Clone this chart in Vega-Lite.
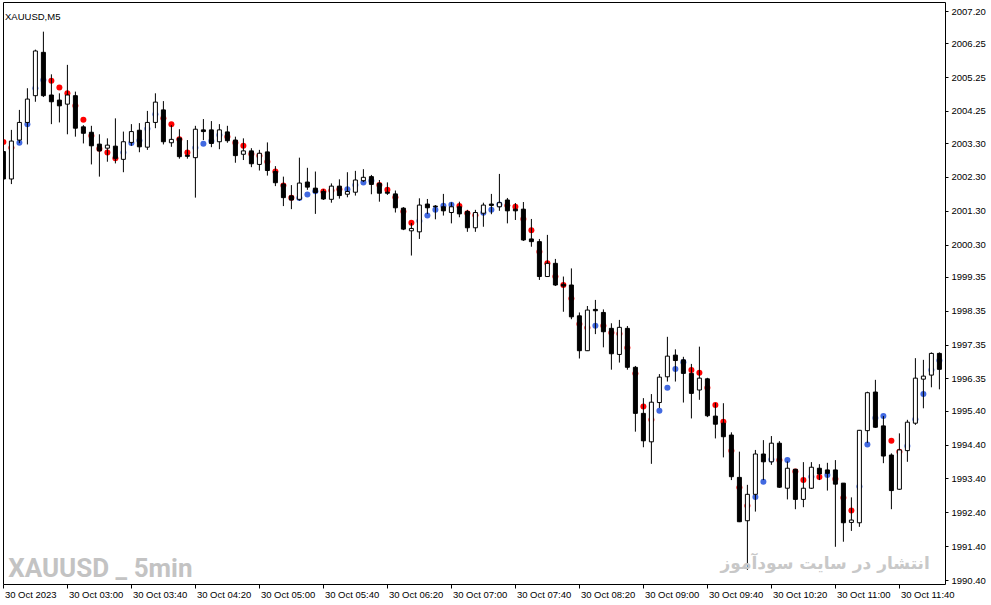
{
"$schema": "https://vega.github.io/schema/vega-lite/v6.json",
"width": 942, "height": 582,
"autosize": "none",
"padding": {"left": 3, "top": 2, "right": 46, "bottom": 21},
"background": "#ffffff",
"title": {"text": "XAUUSD,M5", "anchor": "start", "frame": "group", "offset": -27, "dx": 2, "fontSize": 9.5, "font": "Liberation Sans", "fontWeight": "normal", "color": "#000000", "baseline": "alphabetic"},
"config": {
  "view": {"stroke": "#000000", "strokeWidth": 1},
  "scale": {"continuousPadding": 0},
  "axis": {"grid": false, "domain": false, "tickColor": "#000000", "labelColor": "#000000", "labelFont": "Liberation Sans", "labelFontSize": 9.5, "labelOverlap": false, "labelFlush": false}
},
"datasets": {
"bars": [
{"t":"2023-10-30T02:20","o":2003.05,"h":2003.49,"l":2002.15,"c":2002.24,"s":2003.33,"sig":"sell"},
{"t":"2023-10-30T02:25","o":2002.24,"h":2003.69,"l":2002.09,"c":2003.36,"s":2003.16,"sig":"sell"},
{"t":"2023-10-30T02:30","o":2003.39,"h":2004.28,"l":2003.30,"c":2003.91,"s":2003.31,"sig":"buy"},
{"t":"2023-10-30T02:35","o":2003.91,"h":2004.92,"l":2003.26,"c":2004.60,"s":2003.86,"sig":"buy"},
{"t":"2023-10-30T02:40","o":2004.70,"h":2006.06,"l":2004.52,"c":2006.02,"s":2004.92,"sig":"buy"},
{"t":"2023-10-30T02:45","o":2005.98,"h":2006.59,"l":2004.66,"c":2004.70,"s":2005.16,"sig":"buy"},
{"t":"2023-10-30T02:50","o":2004.72,"h":2005.33,"l":2003.86,"c":2004.52,"s":2005.14,"sig":"sell"},
{"t":"2023-10-30T02:55","o":2004.57,"h":2004.77,"l":2003.91,"c":2004.40,"s":2004.94,"sig":"sell"},
{"t":"2023-10-30T03:00","o":2004.45,"h":2005.61,"l":2003.56,"c":2004.72,"s":2004.77,"sig":"sell"},
{"t":"2023-10-30T03:05","o":2004.70,"h":2004.82,"l":2003.49,"c":2003.74,"s":2004.40,"sig":"sell"},
{"t":"2023-10-30T03:10","o":2003.78,"h":2003.83,"l":2003.29,"c":2003.59,"s":2003.99,"sig":"sell"},
{"t":"2023-10-30T03:15","o":2003.62,"h":2003.81,"l":2002.67,"c":2003.22,"s":2003.52,"sig":"sell"},
{"t":"2023-10-30T03:20","o":2003.27,"h":2003.56,"l":2002.31,"c":2003.07,"s":2003.13,"sig":"sell"},
{"t":"2023-10-30T03:25","o":2003.15,"h":2003.44,"l":2002.75,"c":2003.24,"s":2003.02,"sig":"sell"},
{"t":"2023-10-30T03:30","o":2003.21,"h":2004.03,"l":2002.70,"c":2002.85,"s":2002.85,"sig":"sell"},
{"t":"2023-10-30T03:35","o":2002.82,"h":2003.64,"l":2002.44,"c":2003.34,"s":2003.02,"sig":"buy"},
{"t":"2023-10-30T03:40","o":2003.32,"h":2003.86,"l":2003.22,"c":2003.64,"s":2003.30,"sig":"buy"},
{"t":"2023-10-30T03:45","o":2003.68,"h":2003.89,"l":2003.03,"c":2003.19,"s":2003.38,"sig":"buy"},
{"t":"2023-10-30T03:50","o":2003.18,"h":2004.25,"l":2003.10,"c":2003.91,"s":2003.72,"sig":"buy"},
{"t":"2023-10-30T03:55","o":2003.91,"h":2004.77,"l":2003.74,"c":2004.51,"s":2004.15,"sig":"buy"},
{"t":"2023-10-30T04:00","o":2004.28,"h":2004.54,"l":2003.26,"c":2003.34,"s":2004.03,"sig":"sell"},
{"t":"2023-10-30T04:05","o":2003.31,"h":2003.83,"l":2003.19,"c":2003.41,"s":2003.86,"sig":"sell"},
{"t":"2023-10-30T04:10","o":2003.45,"h":2003.71,"l":2002.84,"c":2002.90,"s":2003.41,"sig":"sell"},
{"t":"2023-10-30T04:15","o":2002.94,"h":2003.39,"l":2002.84,"c":2002.91,"s":2003.02,"sig":"sell"},
{"t":"2023-10-30T04:20","o":2002.87,"h":2003.81,"l":2001.69,"c":2003.71,"s":2003.16,"sig":"buy"},
{"t":"2023-10-30T04:25","o":2003.69,"h":2004.01,"l":2003.39,"c":2003.64,"s":2003.28,"sig":"buy"},
{"t":"2023-10-30T04:30","o":2003.69,"h":2003.95,"l":2003.18,"c":2003.29,"s":2003.36,"sig":"buy"},
{"t":"2023-10-30T04:35","o":2003.34,"h":2003.86,"l":2003.12,"c":2003.69,"s":2003.54,"sig":"buy"},
{"t":"2023-10-30T04:40","o":2003.63,"h":2003.81,"l":2003.31,"c":2003.37,"s":2003.49,"sig":"sell"},
{"t":"2023-10-30T04:45","o":2003.39,"h":2003.49,"l":2002.72,"c":2002.93,"s":2003.31,"sig":"sell"},
{"t":"2023-10-30T04:50","o":2002.97,"h":2003.44,"l":2002.80,"c":2003.07,"s":2003.22,"sig":"sell"},
{"t":"2023-10-30T04:55","o":2003.07,"h":2003.15,"l":2002.59,"c":2002.69,"s":2002.98,"sig":"sell"},
{"t":"2023-10-30T05:00","o":2002.67,"h":2003.10,"l":2002.49,"c":2003.00,"s":2002.93,"sig":"sell"},
{"t":"2023-10-30T05:05","o":2003.04,"h":2003.32,"l":2002.34,"c":2002.49,"s":2002.75,"sig":"sell"},
{"t":"2023-10-30T05:10","o":2002.46,"h":2002.62,"l":2002.03,"c":2002.13,"s":2002.46,"sig":"sell"},
{"t":"2023-10-30T05:15","o":2002.09,"h":2002.31,"l":2001.44,"c":2001.69,"s":2002.05,"sig":"sell"},
{"t":"2023-10-30T05:20","o":2001.74,"h":2002.06,"l":2001.35,"c":2001.62,"s":2001.69,"sig":"sell"},
{"t":"2023-10-30T05:25","o":2001.64,"h":2002.87,"l":2001.60,"c":2002.12,"s":2001.68,"sig":"buy"},
{"t":"2023-10-30T05:30","o":2002.15,"h":2002.57,"l":2001.92,"c":2002.00,"s":2001.78,"sig":"buy"},
{"t":"2023-10-30T05:35","o":2001.97,"h":2002.46,"l":2001.21,"c":2001.84,"s":2001.88,"sig":"buy"},
{"t":"2023-10-30T05:40","o":2001.87,"h":2001.94,"l":2001.62,"c":2001.65,"s":2001.87,"sig":"sell"},
{"t":"2023-10-30T05:45","o":2001.64,"h":2002.11,"l":2001.54,"c":2002.03,"s":2001.90,"sig":"sell"},
{"t":"2023-10-30T05:50","o":2002.03,"h":2002.23,"l":2001.66,"c":2001.75,"s":2001.94,"sig":"sell"},
{"t":"2023-10-30T05:55","o":2001.79,"h":2002.44,"l":2001.70,"c":2001.87,"s":2001.94,"sig":"buy"},
{"t":"2023-10-30T06:00","o":2001.85,"h":2002.48,"l":2001.75,"c":2002.21,"s":2002.06,"sig":"buy"},
{"t":"2023-10-30T06:05","o":2002.19,"h":2002.53,"l":2002.15,"c":2002.29,"s":2002.14,"sig":"buy"},
{"t":"2023-10-30T06:10","o":2002.31,"h":2002.36,"l":2001.79,"c":2002.08,"s":2002.19,"sig":"buy"},
{"t":"2023-10-30T06:15","o":2002.11,"h":2002.21,"l":2001.57,"c":2001.82,"s":2002.06,"sig":"sell"},
{"t":"2023-10-30T06:20","o":2001.85,"h":2002.14,"l":2001.77,"c":2001.82,"s":2001.92,"sig":"sell"},
{"t":"2023-10-30T06:25","o":2001.80,"h":2001.90,"l":2001.25,"c":2001.39,"s":2001.70,"sig":"sell"},
{"t":"2023-10-30T06:30","o":2001.38,"h":2001.41,"l":2000.73,"c":2000.76,"s":2001.28,"sig":"sell"},
{"t":"2023-10-30T06:35","o":2000.71,"h":2000.94,"l":1999.98,"c":2000.78,"s":2000.95,"sig":"sell"},
{"t":"2023-10-30T06:40","o":2000.68,"h":2001.67,"l":2000.47,"c":2001.47,"s":2001.00,"sig":"buy"},
{"t":"2023-10-30T06:45","o":2001.50,"h":2001.65,"l":2001.21,"c":2001.39,"s":2001.16,"sig":"buy"},
{"t":"2023-10-30T06:50","o":2001.44,"h":2001.47,"l":2001.05,"c":2001.42,"s":2001.33,"sig":"buy"},
{"t":"2023-10-30T06:55","o":2001.42,"h":2001.80,"l":2001.16,"c":2001.30,"s":2001.45,"sig":"buy"},
{"t":"2023-10-30T07:00","o":2001.25,"h":2001.55,"l":2000.93,"c":2001.42,"s":2001.48,"sig":"buy"},
{"t":"2023-10-30T07:05","o":2001.42,"h":2001.57,"l":2001.11,"c":2001.21,"s":2001.44,"sig":"sell"},
{"t":"2023-10-30T07:10","o":2001.28,"h":2001.33,"l":2000.68,"c":2000.80,"s":2001.23,"sig":"sell"},
{"t":"2023-10-30T07:15","o":2000.80,"h":2001.33,"l":2000.68,"c":2001.25,"s":2001.17,"sig":"sell"},
{"t":"2023-10-30T07:20","o":2001.23,"h":2001.54,"l":2000.83,"c":2001.47,"s":2001.24,"sig":"buy"},
{"t":"2023-10-30T07:25","o":2001.50,"h":2001.80,"l":2001.20,"c":2001.46,"s":2001.33,"sig":"buy"},
{"t":"2023-10-30T07:30","o":2001.42,"h":2002.39,"l":2001.30,"c":2001.54,"s":2001.49,"sig":"buy"},
{"t":"2023-10-30T07:35","o":2001.62,"h":2001.68,"l":2000.93,"c":2001.30,"s":2001.46,"sig":"sell"},
{"t":"2023-10-30T07:40","o":2001.35,"h":2001.53,"l":2001.03,"c":2001.30,"s":2001.42,"sig":"sell"},
{"t":"2023-10-30T07:45","o":2001.35,"h":2001.56,"l":2000.41,"c":2000.44,"s":2001.06,"sig":"sell"},
{"t":"2023-10-30T07:50","o":2000.47,"h":2001.06,"l":2000.24,"c":2000.39,"s":2000.73,"sig":"sell"},
{"t":"2023-10-30T07:55","o":2000.39,"h":2000.47,"l":1999.26,"c":1999.36,"s":2000.09,"sig":"sell"},
{"t":"2023-10-30T08:00","o":1999.36,"h":2000.59,"l":1999.35,"c":1999.75,"s":1999.75,"sig":"sell"},
{"t":"2023-10-30T08:05","o":1999.75,"h":1999.88,"l":1999.08,"c":1999.11,"s":1999.36,"sig":"sell"},
{"t":"2023-10-30T08:10","o":1999.13,"h":1999.36,"l":1998.32,"c":1999.08,"s":1999.11,"sig":"sell"},
{"t":"2023-10-30T08:15","o":1999.11,"h":1999.60,"l":1998.10,"c":1998.17,"s":1998.71,"sig":"sell"},
{"t":"2023-10-30T08:20","o":1998.20,"h":1998.30,"l":1996.94,"c":1997.17,"s":1997.96,"sig":"sell"},
{"t":"2023-10-30T08:25","o":1997.17,"h":1998.49,"l":1997.16,"c":1998.37,"s":1997.85,"sig":"sell"},
{"t":"2023-10-30T08:30","o":1998.39,"h":1998.67,"l":1997.66,"c":1998.35,"s":1997.91,"sig":"buy"},
{"t":"2023-10-30T08:35","o":1998.30,"h":1998.39,"l":1997.27,"c":1997.73,"s":1997.91,"sig":"sell"},
{"t":"2023-10-30T08:40","o":1997.83,"h":1997.98,"l":1996.61,"c":1997.08,"s":1997.70,"sig":"sell"},
{"t":"2023-10-30T08:45","o":1997.06,"h":1998.08,"l":1996.82,"c":1997.86,"s":1997.67,"sig":"sell"},
{"t":"2023-10-30T08:50","o":1997.83,"h":1997.90,"l":1996.61,"c":1996.68,"s":1997.26,"sig":"sell"},
{"t":"2023-10-30T08:55","o":1996.68,"h":1996.72,"l":1994.78,"c":1995.32,"s":1996.50,"sig":"sell"},
{"t":"2023-10-30T09:00","o":1995.32,"h":1995.77,"l":1994.32,"c":1994.51,"s":1995.52,"sig":"sell"},
{"t":"2023-10-30T09:05","o":1994.48,"h":1995.89,"l":1993.83,"c":1995.65,"s":1995.13,"sig":"sell"},
{"t":"2023-10-30T09:10","o":1995.64,"h":1996.48,"l":1995.48,"c":1996.39,"s":1995.40,"sig":"buy"},
{"t":"2023-10-30T09:15","o":1996.40,"h":1997.58,"l":1996.26,"c":1997.01,"s":1996.08,"sig":"buy"},
{"t":"2023-10-30T09:20","o":1997.04,"h":1997.21,"l":1996.26,"c":1996.88,"s":1996.63,"sig":"buy"},
{"t":"2023-10-30T09:25","o":1996.90,"h":1996.99,"l":1995.64,"c":1996.50,"s":1996.83,"sig":"buy"},
{"t":"2023-10-30T09:30","o":1996.50,"h":1996.78,"l":1995.17,"c":1995.91,"s":1996.60,"sig":"sell"},
{"t":"2023-10-30T09:35","o":1996.01,"h":1997.29,"l":1995.72,"c":1996.36,"s":1996.52,"sig":"sell"},
{"t":"2023-10-30T09:40","o":1996.34,"h":1996.37,"l":1995.21,"c":1995.25,"s":1996.08,"sig":"sell"},
{"t":"2023-10-30T09:45","o":1995.24,"h":1995.63,"l":1994.58,"c":1995.00,"s":1995.57,"sig":"sell"},
{"t":"2023-10-30T09:50","o":1995.03,"h":1995.62,"l":1994.02,"c":1994.63,"s":1995.07,"sig":"sell"},
{"t":"2023-10-30T09:55","o":1994.68,"h":1994.76,"l":1993.35,"c":1993.45,"s":1994.22,"sig":"sell"},
{"t":"2023-10-30T10:00","o":1993.43,"h":1994.19,"l":1992.11,"c":1992.12,"s":1993.13,"sig":"sell"},
{"t":"2023-10-30T10:05","o":1992.15,"h":1993.21,"l":1990.70,"c":1992.93,"s":1992.59,"sig":"sell"},
{"t":"2023-10-30T10:10","o":1992.93,"h":1994.24,"l":1992.42,"c":1994.12,"s":1992.85,"sig":"buy"},
{"t":"2023-10-30T10:15","o":1994.12,"h":1994.53,"l":1993.35,"c":1993.89,"s":1993.30,"sig":"buy"},
{"t":"2023-10-30T10:20","o":1993.89,"h":1994.65,"l":1993.80,"c":1994.44,"s":1993.96,"sig":"buy"},
{"t":"2023-10-30T10:25","o":1994.44,"h":1994.50,"l":1993.12,"c":1993.14,"s":1993.94,"sig":"sell"},
{"t":"2023-10-30T10:30","o":1993.11,"h":1993.90,"l":1992.78,"c":1993.70,"s":1993.94,"sig":"buy"},
{"t":"2023-10-30T10:35","o":1993.67,"h":1993.68,"l":1992.49,"c":1992.78,"s":1993.60,"sig":"sell"},
{"t":"2023-10-30T10:40","o":1992.78,"h":1993.88,"l":1992.55,"c":1993.11,"s":1993.35,"sig":"sell"},
{"t":"2023-10-30T10:45","o":1993.11,"h":1993.88,"l":1993.09,"c":1993.73,"s":1993.45,"sig":"buy"},
{"t":"2023-10-30T10:50","o":1993.70,"h":1993.82,"l":1993.35,"c":1993.53,"s":1993.44,"sig":"sell"},
{"t":"2023-10-30T10:55","o":1993.65,"h":1993.86,"l":1993.04,"c":1993.55,"s":1993.50,"sig":"buy"},
{"t":"2023-10-30T11:00","o":1993.65,"h":1993.94,"l":1991.38,"c":1993.23,"s":1993.38,"sig":"sell"},
{"t":"2023-10-30T11:05","o":1993.26,"h":1993.26,"l":1991.53,"c":1992.09,"s":1992.83,"sig":"sell"},
{"t":"2023-10-30T11:10","o":1992.10,"h":1992.84,"l":1991.85,"c":1992.17,"s":1992.45,"sig":"sell"},
{"t":"2023-10-30T11:15","o":1992.09,"h":1994.83,"l":1991.97,"c":1994.82,"s":1993.16,"sig":"buy"},
{"t":"2023-10-30T11:20","o":1994.81,"h":1995.96,"l":1994.45,"c":1995.93,"s":1994.40,"sig":"buy"},
{"t":"2023-10-30T11:25","o":1995.95,"h":1996.31,"l":1994.89,"c":1994.91,"s":1995.18,"sig":"buy"},
{"t":"2023-10-30T11:30","o":1994.95,"h":1995.24,"l":1993.85,"c":1994.06,"s":1995.24,"sig":"buy"},
{"t":"2023-10-30T11:35","o":1994.09,"h":1994.14,"l":1992.49,"c":1993.04,"s":1994.51,"sig":"sell"},
{"t":"2023-10-30T11:40","o":1993.08,"h":1994.73,"l":1993.06,"c":1994.24,"s":1994.19,"sig":"sell"},
{"t":"2023-10-30T11:45","o":1994.22,"h":1995.13,"l":1993.89,"c":1995.06,"s":1994.36,"sig":"buy"},
{"t":"2023-10-30T11:50","o":1995.03,"h":1996.95,"l":1994.98,"c":1996.36,"s":1995.15,"sig":"buy"},
{"t":"2023-10-30T11:55","o":1996.33,"h":1996.90,"l":1995.47,"c":1996.42,"s":1995.89,"sig":"buy"},
{"t":"2023-10-30T12:00","o":1996.45,"h":1997.12,"l":1996.09,"c":1997.09,"s":1996.60,"sig":"buy"},
{"t":"2023-10-30T12:05","o":1997.09,"h":1997.12,"l":1996.03,"c":1996.62,"s":1996.88,"sig":"buy"}
]
},
"layer": [
{
  "data": {"name": "bars"},
  "mark": {"type": "circle", "size": 36, "opacity": 1, "clip": true},
  "encoding": {
    "x": {"field": "t", "type": "temporal", "title": null,
      "scale": {"padding": 0, "domain": [{"year":2023,"month":10,"date":30,"hours":2,"minutes":19,"seconds":45},{"year":2023,"month":10,"date":30,"hours":12,"minutes":8,"seconds":30}]},
      "axis": {"orient": "bottom", "tickSize": 4, "tickCount": 30, "labelPadding": 1, "labelAlign": "left", "labelBaseline": "top", "labelOffset": 1, "labelOverlap": false, "labelFlush": false,
        "values": [
          {"year":2023,"month":10,"date":30,"hours":2,"minutes":20},
          {"year":2023,"month":10,"date":30,"hours":3,"minutes":0},
          {"year":2023,"month":10,"date":30,"hours":3,"minutes":40},
          {"year":2023,"month":10,"date":30,"hours":4,"minutes":20},
          {"year":2023,"month":10,"date":30,"hours":5,"minutes":0},
          {"year":2023,"month":10,"date":30,"hours":5,"minutes":40},
          {"year":2023,"month":10,"date":30,"hours":6,"minutes":20},
          {"year":2023,"month":10,"date":30,"hours":7,"minutes":0},
          {"year":2023,"month":10,"date":30,"hours":7,"minutes":40},
          {"year":2023,"month":10,"date":30,"hours":8,"minutes":20},
          {"year":2023,"month":10,"date":30,"hours":9,"minutes":0},
          {"year":2023,"month":10,"date":30,"hours":9,"minutes":40},
          {"year":2023,"month":10,"date":30,"hours":10,"minutes":20},
          {"year":2023,"month":10,"date":30,"hours":11,"minutes":0},
          {"year":2023,"month":10,"date":30,"hours":11,"minutes":40}
        ],
        "labelExpr": "hours(datum.value) == 2 ? '30 Oct 2023' : timeFormat(datum.value, '%d %b %H:%M')"}},
    "y": {"field": "s", "type": "quantitative", "title": null,
      "scale": {"domain": [1990.282, 2007.466], "zero": false, "nice": false},
      "axis": {"orient": "right", "tickSize": 3, "tickCount": 40, "labelPadding": 3, "labelBaseline": "middle", "format": ".2f", "labelOverlap": false, "labelFlush": false,
        "values": [2007.20, 2006.25, 2005.25, 2004.25, 2003.30, 2002.30, 2001.30, 2000.30, 1999.35, 1998.35, 1997.35, 1996.35, 1995.40, 1994.40, 1993.40, 1992.40, 1991.40, 1990.40]}},
    "color": {"field": "sig", "type": "nominal", "legend": null, "scale": {"domain": ["sell", "buy"], "range": ["#ff0000", "#4169e1"]}}
  }
},
{
  "data": {"name": "bars"},
  "mark": {"type": "rule", "color": "#000000", "strokeWidth": 1, "clip": true},
  "encoding": {
    "x": {"field": "t", "type": "temporal", "scale": {"padding": 0, "domain": [{"year":2023,"month":10,"date":30,"hours":2,"minutes":19,"seconds":45},{"year":2023,"month":10,"date":30,"hours":12,"minutes":8,"seconds":30}]}},
    "y": {"field": "l", "type": "quantitative", "scale": {"domain": [1990.282, 2007.466], "zero": false, "nice": false}},
    "y2": {"field": "h"}
  }
},
{
  "data": {"name": "bars"},
  "mark": {"type": "bar", "width": 4, "stroke": "#000000", "strokeWidth": 1, "clip": true},
  "encoding": {
    "x": {"field": "t", "type": "temporal", "scale": {"padding": 0, "domain": [{"year":2023,"month":10,"date":30,"hours":2,"minutes":19,"seconds":45},{"year":2023,"month":10,"date":30,"hours":12,"minutes":8,"seconds":30}]}},
    "y": {"field": "o", "type": "quantitative", "scale": {"domain": [1990.282, 2007.466], "zero": false, "nice": false}},
    "y2": {"field": "c"},
    "fill": {"condition": {"test": "datum.c >= datum.o", "value": "#ffffff"}, "value": "#000000"}
  }
},
{
  "data": {"values": [{"label": "XAUUSD _ 5min"}]},
  "mark": {"type": "text", "align": "left", "baseline": "alphabetic", "font": "Roboto", "fontWeight": "bold", "fontSize": 26, "color": "#c3c3c3"},
  "encoding": {
    "x": {"datum": {"year":2023,"month":10,"date":30,"hours":2,"minutes":23}, "type": "temporal", "scale": {"padding": 0, "domain": [{"year":2023,"month":10,"date":30,"hours":2,"minutes":19,"seconds":45},{"year":2023,"month":10,"date":30,"hours":12,"minutes":8,"seconds":30}]}},
    "y": {"datum": 1990.49, "type": "quantitative", "scale": {"domain": [1990.282, 2007.466], "zero": false, "nice": false}},
    "text": {"field": "label"}
  }
},
{
  "data": {"values": [{"label": "انتشار در سایت سودآموز"}]},
  "mark": {"type": "text", "align": "right", "baseline": "alphabetic", "font": "DejaVu Sans", "fontWeight": "bold", "fontSize": 17, "color": "#c8c8c8"},
  "encoding": {
    "x": {"datum": {"year":2023,"month":10,"date":30,"hours":11,"minutes":59}, "type": "temporal", "scale": {"padding": 0, "domain": [{"year":2023,"month":10,"date":30,"hours":2,"minutes":19,"seconds":45},{"year":2023,"month":10,"date":30,"hours":12,"minutes":8,"seconds":30}]}},
    "y": {"datum": 1990.725, "type": "quantitative", "scale": {"domain": [1990.282, 2007.466], "zero": false, "nice": false}},
    "text": {"field": "label"}
  }
}
]
}
